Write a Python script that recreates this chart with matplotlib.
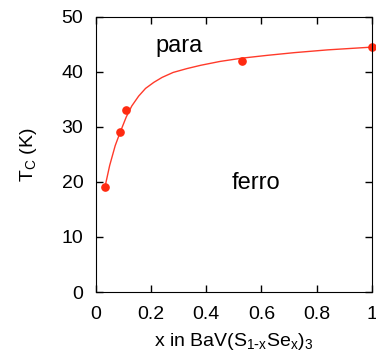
import matplotlib
matplotlib.use('Agg')
import matplotlib.pyplot as plt

plt.rcParams['font.family'] = ['Liberation Sans', 'DejaVu Sans']

# measured points
x_pts = [0.033, 0.087, 0.11, 0.53, 1.0]
tc_pts = [19.0, 29.0, 33.0, 42.0, 44.5]

# fitted curve
x_fit = [0.033, 0.05, 0.07, 0.087, 0.11, 0.13, 0.155, 0.18, 0.21, 0.24, 0.28,
         0.33, 0.38, 0.45, 0.53, 0.62, 0.72, 0.84, 1.0]
tc_fit = [19.1, 23.0, 26.6, 28.9, 31.8, 33.8, 35.6, 37.0, 38.1, 39.0, 39.9,
          40.6, 41.2, 41.9, 42.5, 43.0, 43.5, 44.0, 44.5]

x_ticks = [0, 0.2, 0.4, 0.6, 0.8, 1]
x_labels = ['0', '0.2', '0.4', '0.6', '0.8', '1']
y_ticks = [0, 10, 20, 30, 40, 50]

fig = plt.figure(figsize=(3.76, 3.51), dpi=100)
ax = fig.add_axes([0.255, 0.168, 0.734, 0.784])

ax.plot(x_fit, tc_fit, color='#ff3a2a', lw=1.0, clip_on=False)
ax.plot(x_pts, tc_pts, 'o', color='#ff2a10', ms=5.2, clip_on=False)

ax.set_xlim(0, 1)
ax.set_ylim(0, 50)
ax.set_xticks(x_ticks)
ax.set_xticklabels(x_labels)
ax.set_yticks(y_ticks)
ax.tick_params(direction='in', top=True, right=True, length=5, width=1,
               labelsize=14)
ax.tick_params(axis='x', pad=10)
ax.tick_params(axis='y', pad=9)

ax.text(0.30, 44.7, 'para', fontsize=17, ha='center', va='center')
ax.text(0.58, 19.8, 'ferro', fontsize=17, ha='center', va='center')

ax.set_xlabel(r'x in BaV(S$_{\mathregular{1\text{-}x}}$Se$_{\mathregular{x}}$)$_{\mathregular{3}}$',
              fontsize=14, labelpad=6)
ax.set_ylabel(r'T$_{\mathregular{C}}$ (K)', fontsize=14, labelpad=16)

fig.savefig('out.png', dpi=100)
